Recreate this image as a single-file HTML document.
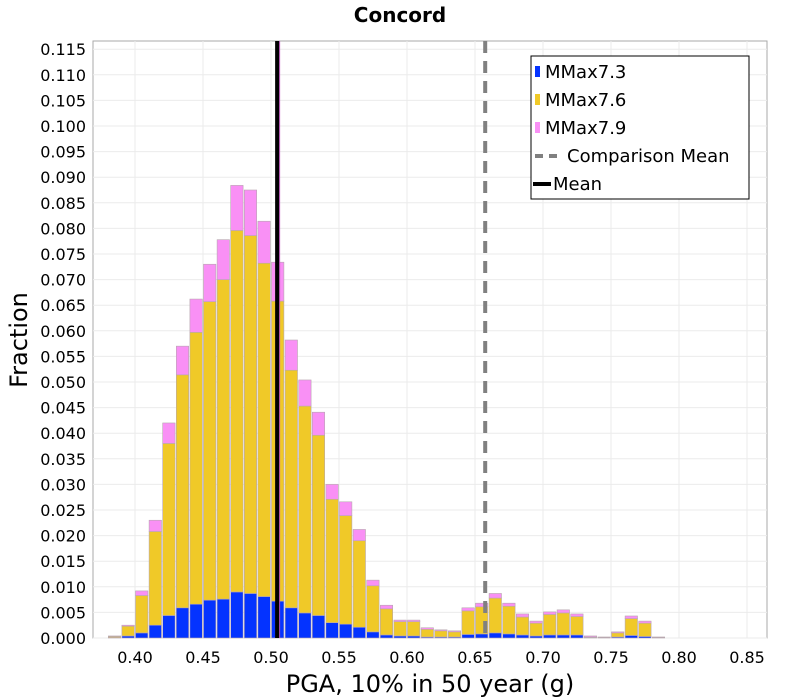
<!DOCTYPE html>
<html><head><meta charset="utf-8"><style>
body{margin:0;background:#fff;}
svg{display:block;font-family:"DejaVu Sans","Liberation Sans",sans-serif;}
</style></head><body>
<svg id="chart" width="800" height="700" xmlns="http://www.w3.org/2000/svg">
<text x="400" y="22" text-anchor="middle" font-size="20" font-weight="bold">Concord</text>
<rect x="93" y="41" width="674" height="597" fill="#fff" stroke="#aaa"/>
<g id="grid"></g><g id="bars"></g><g id="lines"></g><g id="axes"></g>
<text x="430" y="692" text-anchor="middle" font-size="24">PGA, 10% in 50 year (g)</text>
<text transform="translate(27,340) rotate(-90)" text-anchor="middle" font-size="24">Fraction</text>
<g>
<rect x="531" y="56" width="218" height="143" fill="#fff" stroke="#000"/>
<rect x="535" y="66" width="5" height="11" fill="#0433ff"/>
<text x="545" y="78" font-size="18">MMax7.3</text>
<rect x="535" y="94" width="5" height="11" fill="#f0c928"/>
<text x="545" y="106" font-size="18">MMax7.6</text>
<rect x="535" y="122" width="5" height="11" fill="#f990f5"/>
<text x="545" y="134" font-size="18">MMax7.9</text>
<line x1="535" y1="156" x2="563" y2="156" stroke="#808080" stroke-width="4" stroke-dasharray="8,6"/>
<text x="567" y="162" font-size="18">Comparison Mean</text>
<line x1="533" y1="184" x2="551" y2="184" stroke="#000" stroke-width="4"/>
<text x="553" y="190" font-size="18">Mean</text>
</g>
</svg>
<script>
const binStarts=[0.38,0.39,0.40,0.41,0.42,0.43,0.44,0.45,0.46,0.47,0.48,0.49,0.50,0.51,0.52,0.53,0.54,0.55,0.56,0.57,0.58,0.59,0.60,0.61,0.62,0.63,0.64,0.65,0.66,0.67,0.68,0.69,0.70,0.71,0.72,0.73,0.74,0.75,0.76,0.77,0.78];
const mmax73=[0.0001,0.0004,0.0010,0.0025,0.0044,0.0059,0.0066,0.0074,0.0076,0.0090,0.0087,0.0081,0.0072,0.0059,0.0049,0.0044,0.0030,0.0027,0.0021,0.0012,0.0006,0.0004,0.0004,0.0002,0.0002,0.0002,0.0007,0.0008,0.0010,0.0008,0.0006,0.0004,0.0006,0.0006,0.0006,0.0001,0.0001,0.0002,0.0005,0.0003,0.0001];
const mmax76=[0.0002,0.0019,0.0073,0.0183,0.0336,0.0455,0.0531,0.0583,0.0624,0.0706,0.0699,0.0651,0.0586,0.0464,0.0404,0.0352,0.0241,0.0212,0.0169,0.0090,0.0051,0.0028,0.0028,0.0015,0.0012,0.0010,0.0046,0.0053,0.0068,0.0054,0.0035,0.0025,0.0040,0.0043,0.0036,0.0001,0.0001,0.0008,0.0033,0.0026,0.0001];
const mmax79=[0.0001,0.0002,0.0009,0.0022,0.0040,0.0056,0.0065,0.0073,0.0078,0.0088,0.0089,0.0082,0.0076,0.0059,0.0051,0.0045,0.0029,0.0027,0.0022,0.0011,0.0007,0.0003,0.0003,0.0003,0.0002,0.0002,0.0006,0.0007,0.0009,0.0006,0.0006,0.0004,0.0005,0.0006,0.0005,0.0002,0.0000,0.0002,0.0005,0.0004,0.0000];
const binWidth=0.01;
const meanValue=0.5045;
const comparisonMean=0.6575;
const xTicks=[0.40,0.45,0.50,0.55,0.60,0.65,0.70,0.75,0.80,0.85];
const yTicks=[0,0.005,0.010,0.015,0.020,0.025,0.030,0.035,0.040,0.045,0.050,0.055,0.060,0.065,0.070,0.075,0.080,0.085,0.090,0.095,0.100,0.105,0.110,0.115];
const NS="http://www.w3.org/2000/svg";
const x=v=>135+(v-0.40)*1360;
const y=v=>638-v*5120;
function mk(tag,attrs,parent){const e=document.createElementNS(NS,tag);for(const k in attrs)e.setAttribute(k,attrs[k]);parent.appendChild(e);return e;}
const grid=document.getElementById('grid'),bars=document.getElementById('bars'),lines=document.getElementById('lines'),axes=document.getElementById('axes');
yTicks.forEach(t=>{
  const l=mk('line',{x1:93,x2:767,y1:y(t),y2:y(t),stroke:'#ebebeb'},grid);
  
  
  const tx=mk('text',{x:86,y:y(t)+6,'text-anchor':'end','font-size':16},axes);
  tx.textContent=t.toFixed(3);
  
  
});
xTicks.forEach(t=>{
  const l=mk('line',{x1:x(t),x2:x(t),y1:41,y2:638,stroke:'#ebebeb'},grid);
  
  
  const tx=mk('text',{x:x(t),y:663,'text-anchor':'middle','font-size':16},axes);
  tx.textContent=t.toFixed(2);
  
  
});
binStarts.forEach((b,i)=>{
  const x0=x(b)+0.5,w=binWidth*1360-1.2;
  let base=0;
  [[mmax73,'#0433ff','mmax73'],[mmax76,'#f0c928','mmax76'],[mmax79,'#f990f5','mmax79']].forEach(([arr,col,nm])=>{
    const v=arr[i];
    const r=mk('rect',{x:x0,y:y(base+v),width:w,height:Math.max(0,y(base)-y(base+v)),fill:col,stroke:'#b8a8b0','stroke-width':0.6},bars);
    
    
    base+=v;
  });
});
const cm=mk('line',{x1:x(comparisonMean),x2:x(comparisonMean),y1:41,y2:638,stroke:'#808080','stroke-width':4,'stroke-dasharray':'12,8'},lines);


const pm=mk('line',{x1:x(meanValue)+2.5,x2:x(meanValue)+2.5,y1:41,y2:638,stroke:'#c050c0','stroke-width':1},lines);


const ml=mk('line',{x1:x(meanValue),x2:x(meanValue),y1:41,y2:638,stroke:'#000','stroke-width':4},lines);


</script>
</body></html>
